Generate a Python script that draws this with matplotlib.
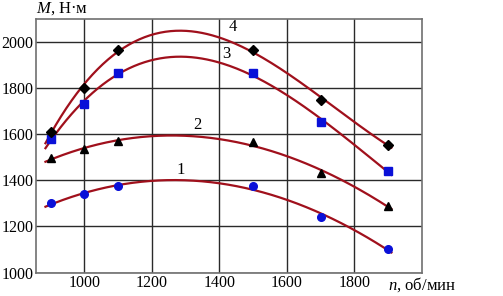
import matplotlib
matplotlib.use("Agg")
import matplotlib.pyplot as plt
import numpy as np

plt.rcParams['font.family'] = ['Liberation Serif', 'DejaVu Serif']
plt.rcParams['mathtext.fontset'] = 'custom'
plt.rcParams['mathtext.it'] = 'Liberation Serif:italic'
plt.rcParams['mathtext.rm'] = 'Liberation Serif'

# engine speed, rpm
n = [900, 1000, 1100, 1500, 1700, 1900]
# torque, N*m (measured points)
m1 = [1300, 1340, 1375, 1375, 1241, 1102]
m2 = [1495, 1535, 1570, 1565, 1430, 1290]
m3 = [1580, 1730, 1865, 1865, 1655, 1440]
m4 = [1610, 1800, 1965, 1965, 1750, 1555]
curve_labels = ['1', '2', '3', '4']
label_pos_n = [1287, 1335, 1421, 1439]
label_pos_m = [1447, 1638, 1947, 2064]

series = [m1, m2, m3, m4]
markers = ['o', '^', 's', 'D']
mcolors = ['#0a10d8', 'black', '#0a10d8', 'black']
msizes = [5.5, 5.5, 5.5, 5]

fig = plt.figure(figsize=(5.03, 2.96), dpi=100)
ax = fig.add_axes([0.0716, 0.079, 0.767, 0.857])

nn = np.linspace(885, 1910, 200)
for m, mk, mc, ms in zip(series, markers, mcolors, msizes):
    # smooth trend line through the points
    coef = np.polyfit(n, m, 3)
    ax.plot(nn, np.polyval(coef, nn), color='#a0101c', lw=1.6, zorder=3)
    ax.plot(n, m, ls='none', marker=mk, color=mc, ms=ms, zorder=4)

for lab, x, y in zip(curve_labels, label_pos_n, label_pos_m):
    ax.text(x, y, lab, fontsize=12, ha='center', va='center', zorder=5)

ax.set_xlim(857, 2000)
ax.set_ylim(1000, 2100)
ax.set_xticks([1000, 1200, 1400, 1600, 1800])
ax.set_yticks([1000, 1200, 1400, 1600, 1800, 2000])
ax.grid(True, color='#2a2a2a', lw=1.0)
ax.tick_params(length=0, labelsize=11.5, pad=2)
for s in ax.spines.values():
    s.set_color('#707070')
    s.set_linewidth(1.2)

fig.text(0.0716, 0.972, r'$M$, Н·м', fontsize=12, ha='left', va='center')
fig.text(0.772, 0.04, r'$n$, об/мин', fontsize=12, ha='left', va='center')

fig.savefig('out.png', dpi=100)
